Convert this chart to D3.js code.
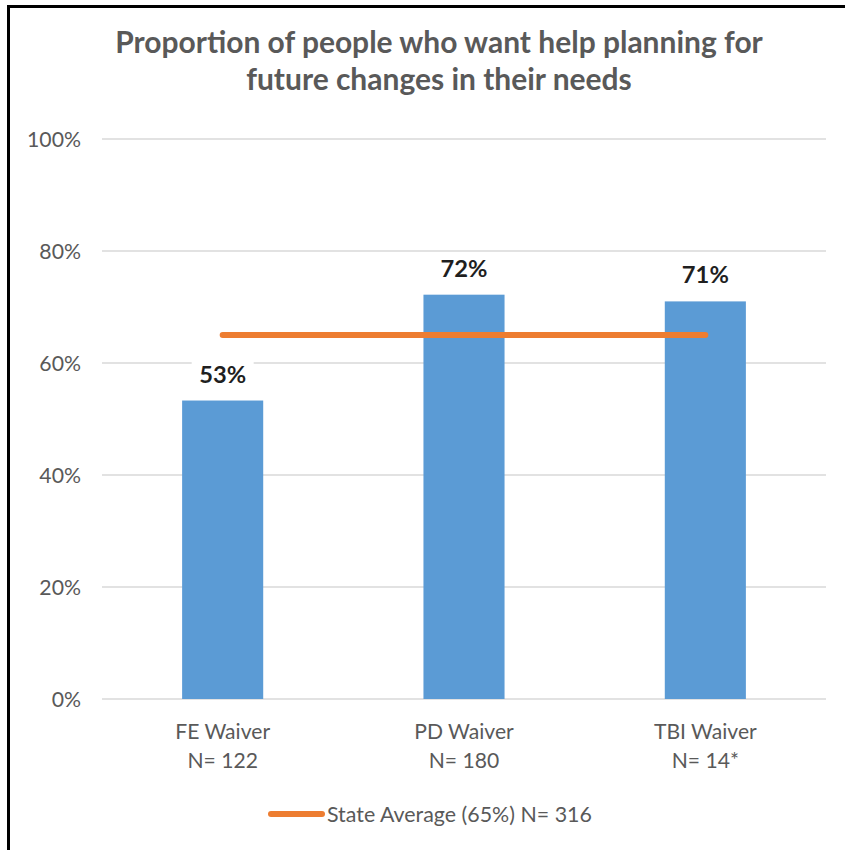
<!DOCTYPE html>
<html>
<head>
<meta charset="utf-8">
<script src="https://cdn.jsdelivr.net/npm/d3@7"></script>
<style>
  html, body { margin: 0; padding: 0; background: #fff; }
  svg { display: block; }
  text { font-family: Lato, "Open Sans", "Liberation Sans", sans-serif; }
</style>
</head>
<body>
<svg id="chart" width="845" height="850"></svg>
<script>
const titleLines = ["Proportion of people who want help planning for", "future changes in their needs"];
const categories = ["FE Waiver", "PD Waiver", "TBI Waiver"];
const sampleLabels = ["N= 122", "N= 180", "N= 14*"];
const values = [0.533, 0.722, 0.71];
const valueLabels = ["53%", "72%", "71%"];
const stateAverage = [0.65, 0.65, 0.65];
const legendLabel = "State Average (65%) N= 316";
const yTicks = [0, 0.2, 0.4, 0.6, 0.8, 1.0];

const svg = d3.select("#chart");
const W = 845, H = 850;
const margin = {left: 102, right: 19, top: 139, bottom: 151};

svg.append("rect").attr("width", W).attr("height", H).attr("fill", "#fff");

// fit a group of texts so that a reference node reaches a target width
function fitGroup(sel, refNode, targetWidth, base) {
  sel.attr("font-size", base);
  const w = refNode.getComputedTextLength();
  const size = w > 0 ? base * targetWidth / w : base;
  sel.attr("font-size", size);
  return size;
}

const x = d3.scaleBand().domain(categories).range([margin.left, W - margin.right]).paddingInner(0.664).paddingOuter(0.332);
const y = d3.scaleLinear().domain([0, 1]).range([H - margin.bottom, margin.top]);

// gridlines
svg.append("g").selectAll("line").data(yTicks).join("line")
  .attr("x1", margin.left).attr("x2", W - margin.right)
  .attr("y1", d => y(d)).attr("y2", d => y(d))
  .attr("stroke", "#d9d9d9").attr("stroke-width", 1.3);

// y axis labels
const yAxis = d3.axisLeft(y).tickValues(yTicks).tickFormat(d3.format(".0%")).tickSize(0).tickPadding(0);
const ya = svg.append("g").attr("transform", `translate(81,0)`).call(yAxis);
ya.select(".domain").remove();
const yTexts = ya.selectAll("text").attr("fill", "#595959").attr("dy", "0.36em")
  .style("font-family", 'Lato, "Open Sans", "Liberation Sans", sans-serif');
fitGroup(yTexts, yTexts.nodes()[yTexts.size() - 1], 54, 20);

// bars
svg.append("g").selectAll("rect").data(values).join("rect")
  .attr("x", (d, i) => x(categories[i]))
  .attr("width", x.bandwidth())
  .attr("y", d => y(d))
  .attr("height", d => y(0) - y(d))
  .attr("fill", "#5b9bd5");

// state average line
const line = d3.line().x((d, i) => x(categories[i]) + x.bandwidth() / 2).y(d => y(d));
svg.append("path").datum(stateAverage).attr("d", line)
  .attr("fill", "none").attr("stroke", "#ed7d31").attr("stroke-width", 6).attr("stroke-linecap", "round");

// value labels with white background
const lbl = svg.append("g").selectAll("g").data(values).join("g")
  .attr("transform", (d, i) => `translate(${x(categories[i]) + x.bandwidth() / 2},${y(d) - 18})`);
lbl.append("rect").attr("x", -31).attr("y", -24).attr("width", 62).attr("height", 30).attr("fill", "#fff");
const vTexts = lbl.append("text").text((d, i) => valueLabels[i])
  .attr("text-anchor", "middle")
  .attr("font-weight", "bold").attr("fill", "#1f1f1f");
fitGroup(vTexts, vTexts.nodes()[0], 47, 24);

// x axis labels
const xa = svg.append("g");
const catTexts = xa.selectAll("text.cat").data(categories).join("text").attr("class", "cat")
  .attr("x", d => x(d) + x.bandwidth() / 2).attr("y", 739)
  .attr("text-anchor", "middle").attr("fill", "#595959").text(d => d);
const xSize = fitGroup(catTexts, catTexts.nodes()[0], 95, 20);
xa.selectAll("text.n").data(sampleLabels).join("text").attr("class", "n")
  .attr("x", (d, i) => x(categories[i]) + x.bandwidth() / 2).attr("y", 768)
  .attr("text-anchor", "middle").attr("font-size", xSize).attr("fill", "#595959").text(d => d);

// legend
const lg = svg.append("g");
lg.append("line").attr("x1", 271).attr("x2", 322).attr("y1", 814).attr("y2", 814)
  .attr("stroke", "#ed7d31").attr("stroke-width", 6).attr("stroke-linecap", "round");
const lgText = lg.append("text").attr("x", 327).attr("y", 822)
  .attr("fill", "#595959").text(legendLabel);
fitGroup(lgText, lgText.node(), 265, 20);

// title
const tTexts = svg.append("g").selectAll("text").data(titleLines).join("text")
  .attr("x", 439).attr("y", (d, i) => 53 + i * 36.5)
  .attr("text-anchor", "middle").attr("font-weight", "bold").attr("fill", "#595959")
  .text(d => d);
fitGroup(tTexts, tTexts.nodes()[0], 648, 28);

// border
svg.append("line").attr("x1", 8.5).attr("x2", 8.5).attr("y1", 5).attr("y2", H).attr("stroke", "#000").attr("stroke-width", 3);
svg.append("line").attr("x1", 7).attr("x2", W).attr("y1", 6.5).attr("y2", 6.5).attr("stroke", "#000").attr("stroke-width", 3);
</script>
</body>
</html>
